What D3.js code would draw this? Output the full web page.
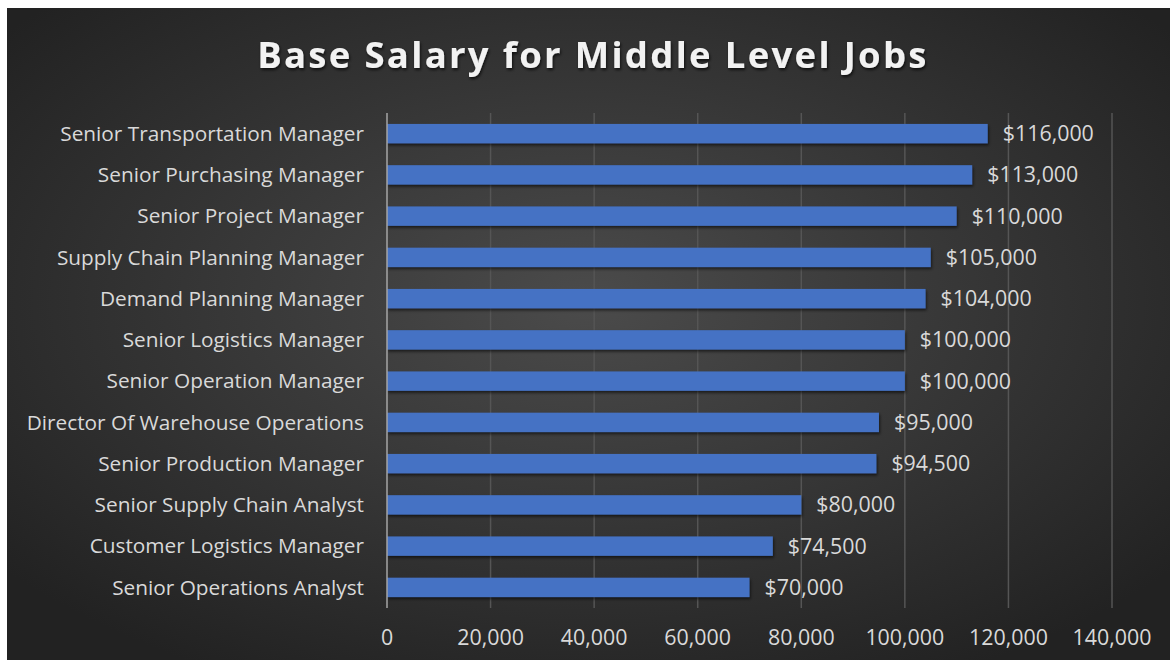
<!DOCTYPE html>
<html>
<head>
<meta charset="utf-8">
<script src="https://cdn.jsdelivr.net/npm/d3@7"></script>
<style>
  body { margin: 0; background: #ffffff; }
  .cat-label { font-family: "Open Sans", sans-serif; font-size: 20.8px; fill: #d9d9d9; }
  .val-label { font-family: "Open Sans", sans-serif; font-size: 21.4px; fill: #d9d9d9; }
  .tick-label { font-family: "Open Sans", sans-serif; font-size: 21.4px; fill: #d9d9d9; }
  .title { font-family: "Open Sans", sans-serif; font-weight: bold; font-size: 36.5px; fill: #f2f2f2; letter-spacing: 2.3px; }
</style>
</head>
<body>
<div id="chart"></div>
<script>
// Title data
const jobs = ["Senior Transportation Manager", "Senior Purchasing Manager", "Senior Project Manager",
    "Supply Chain Planning Manager", "Demand Planning Manager", "Senior Logistics Manager",
    "Senior Operation Manager", "Director Of Warehouse Operations", "Senior Production Manager",
    "Senior Supply Chain Analyst", "Customer Logistics Manager", "Senior Operations Analyst"];
const salaries = [116000, 113000, 110000, 105000, 104000, 100000, 100000, 95000, 94500, 80000, 74500, 70000];
const ticks = [0, 20000, 40000, 60000, 80000, 100000, 120000, 140000];

const width = 1170;
const height = 660;
const margin = {top: 113, right: 58, bottom: 52, left: 387};

const svg = d3.select("#chart")
    .append("svg")
    .attr("width", width)
    .attr("height", height);

const defs = svg.append("defs");

const bg = defs.append("radialGradient")
    .attr("id", "bg")
    .attr("cx", "50%")
    .attr("cy", "45%")
    .attr("r", "65%");
bg.append("stop").attr("offset", "0%").attr("stop-color", "#4b4b4b");
bg.append("stop").attr("offset", "100%").attr("stop-color", "#222222");

const shadow = defs.append("filter")
    .attr("id", "shadow")
    .attr("x", "-5%").attr("y", "-30%")
    .attr("width", "110%").attr("height", "180%");
shadow.append("feDropShadow")
    .attr("dx", 1).attr("dy", 2)
    .attr("stdDeviation", 1.5)
    .attr("flood-color", "#000000")
    .attr("flood-opacity", 0.6);

const titleShadow = defs.append("filter")
    .attr("id", "tshadow");
titleShadow.append("feDropShadow")
    .attr("dx", 1).attr("dy", 2)
    .attr("stdDeviation", 1.5)
    .attr("flood-color", "#000000")
    .attr("flood-opacity", 0.7);

// background panel
svg.append("rect")
    .attr("x", 7)
    .attr("y", 8)
    .attr("width", width - 7)
    .attr("height", height - 8)
    .attr("fill", "url(#bg)");

const x = d3.scaleLinear()
    .domain([0, 140000])
    .range([margin.left, width - margin.right]);

const y = d3.scaleBand()
    .domain(jobs)
    .range([margin.top, height - margin.bottom])
    .paddingInner(0.53)
    .paddingOuter(0.265);

// gridlines
svg.append("g")
    .selectAll("line")
    .data(ticks.slice(1))
    .join("line")
    .attr("x1", d => x(d))
    .attr("x2", d => x(d))
    .attr("y1", margin.top)
    .attr("y2", height - margin.bottom)
    .attr("stroke", "#555555")
    .attr("stroke-width", 1.5);

// bars
svg.append("g")
    .selectAll("rect")
    .data(salaries)
    .join("rect")
    .attr("x", x(0))
    .attr("y", (d, i) => y(jobs[i]))
    .attr("width", d => x(d) - x(0))
    .attr("height", y.bandwidth())
    .attr("fill", "#4472c4")
    .attr("filter", "url(#shadow)");

// value axis line on the left
svg.append("line")
    .attr("x1", x(0))
    .attr("x2", x(0))
    .attr("y1", margin.top)
    .attr("y2", height - margin.bottom)
    .attr("stroke", "#a6a6a6")
    .attr("stroke-width", 1.5);

// category labels
svg.append("g")
    .selectAll("text")
    .data(jobs)
    .join("text")
    .attr("class", "cat-label")
    .attr("x", x(0) - 23)
    .attr("y", d => y(d) + y.bandwidth() / 2)
    .attr("dy", "0.35em")
    .attr("text-anchor", "end")
    .text(d => d);

// value labels
const fmt = d3.format(",");
svg.append("g")
    .selectAll("text")
    .data(salaries)
    .join("text")
    .attr("class", "val-label")
    .attr("x", d => x(d) + 15)
    .attr("y", (d, i) => y(jobs[i]) + y.bandwidth() / 2)
    .attr("dy", "0.35em")
    .text(d => "$" + fmt(d));

// tick labels
svg.append("g")
    .selectAll("text")
    .data(ticks)
    .join("text")
    .attr("class", "tick-label")
    .attr("x", d => x(d))
    .attr("y", 638)
    .attr("dy", "0.35em")
    .attr("text-anchor", "middle")
    .text(d => fmt(d));

// title
svg.append("text")
    .attr("class", "title")
    .attr("x", 593)
    .attr("y", 68)
    .attr("text-anchor", "middle")
    .attr("filter", "url(#tshadow)")
    .text("Base Salary for Middle Level Jobs");
</script>
</body>
</html>
